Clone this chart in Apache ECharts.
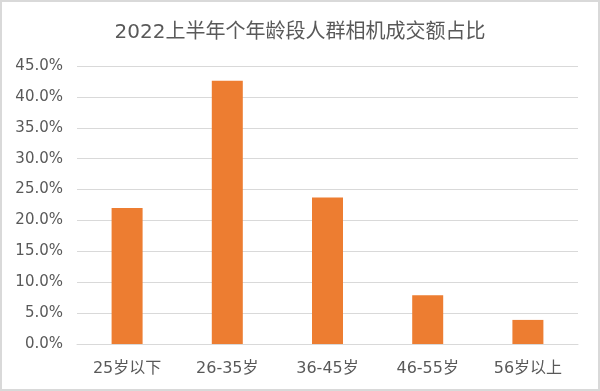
<!DOCTYPE html>
<html><head><meta charset="utf-8">
<script src="https://cdn.jsdelivr.net/npm/echarts@6/dist/echarts.min.js"></script>
<style>html,body{margin:0;padding:0;background:#fff}#c{width:600px;height:391px}</style>
</head><body><div id="c"></div>
<script>
var categories = ['25岁以下', '26-35岁', '36-45岁', '46-55岁', '56岁以上'];
var values = [22.0, 42.6, 23.7, 7.9, 3.9];
var title = '2022上半年个年龄段人群相机成交额占比';
var FONT = '"DejaVu Sans", "Noto Sans CJK SC", sans-serif';
var chart = echarts.init(document.getElementById('c'));
chart.setOption({
  animation: false,
  title: { text: title, left: 'center', top: 18, textStyle: { fontFamily: FONT, fontSize: 20, fontWeight: 'normal', color: '#595959' } },
  graphic: [{ type: 'rect', shape: { x: 1, y: 1, width: 598, height: 389 }, style: { fill: 'none', stroke: '#d9d9d9', lineWidth: 2 }, silent: true }],
  grid: { left: 77, right: 22, top: 66, bottom: 47 },
  xAxis: {
    type: 'category', data: categories,
    axisLine: { show: true, lineStyle: { color: '#d9d9d9' } },
    axisTick: { show: false },
    axisLabel: { color: '#595959', fontSize: 16, fontFamily: FONT, margin: 17 }
  },
  yAxis: {
    type: 'value', min: 0, max: 45, interval: 5,
    axisLine: { show: false }, axisTick: { show: false },
    splitLine: { lineStyle: { color: '#d9d9d9', width: 1 } },
    axisLabel: { color: '#595959', fontSize: 15, fontFamily: FONT, margin: 14, formatter: function (v) { return v.toFixed(1) + '%'; } }
  },
  series: [{ type: 'bar', data: values, barWidth: 31, itemStyle: { color: '#ed7d31' } }]
});
</script></body></html>
